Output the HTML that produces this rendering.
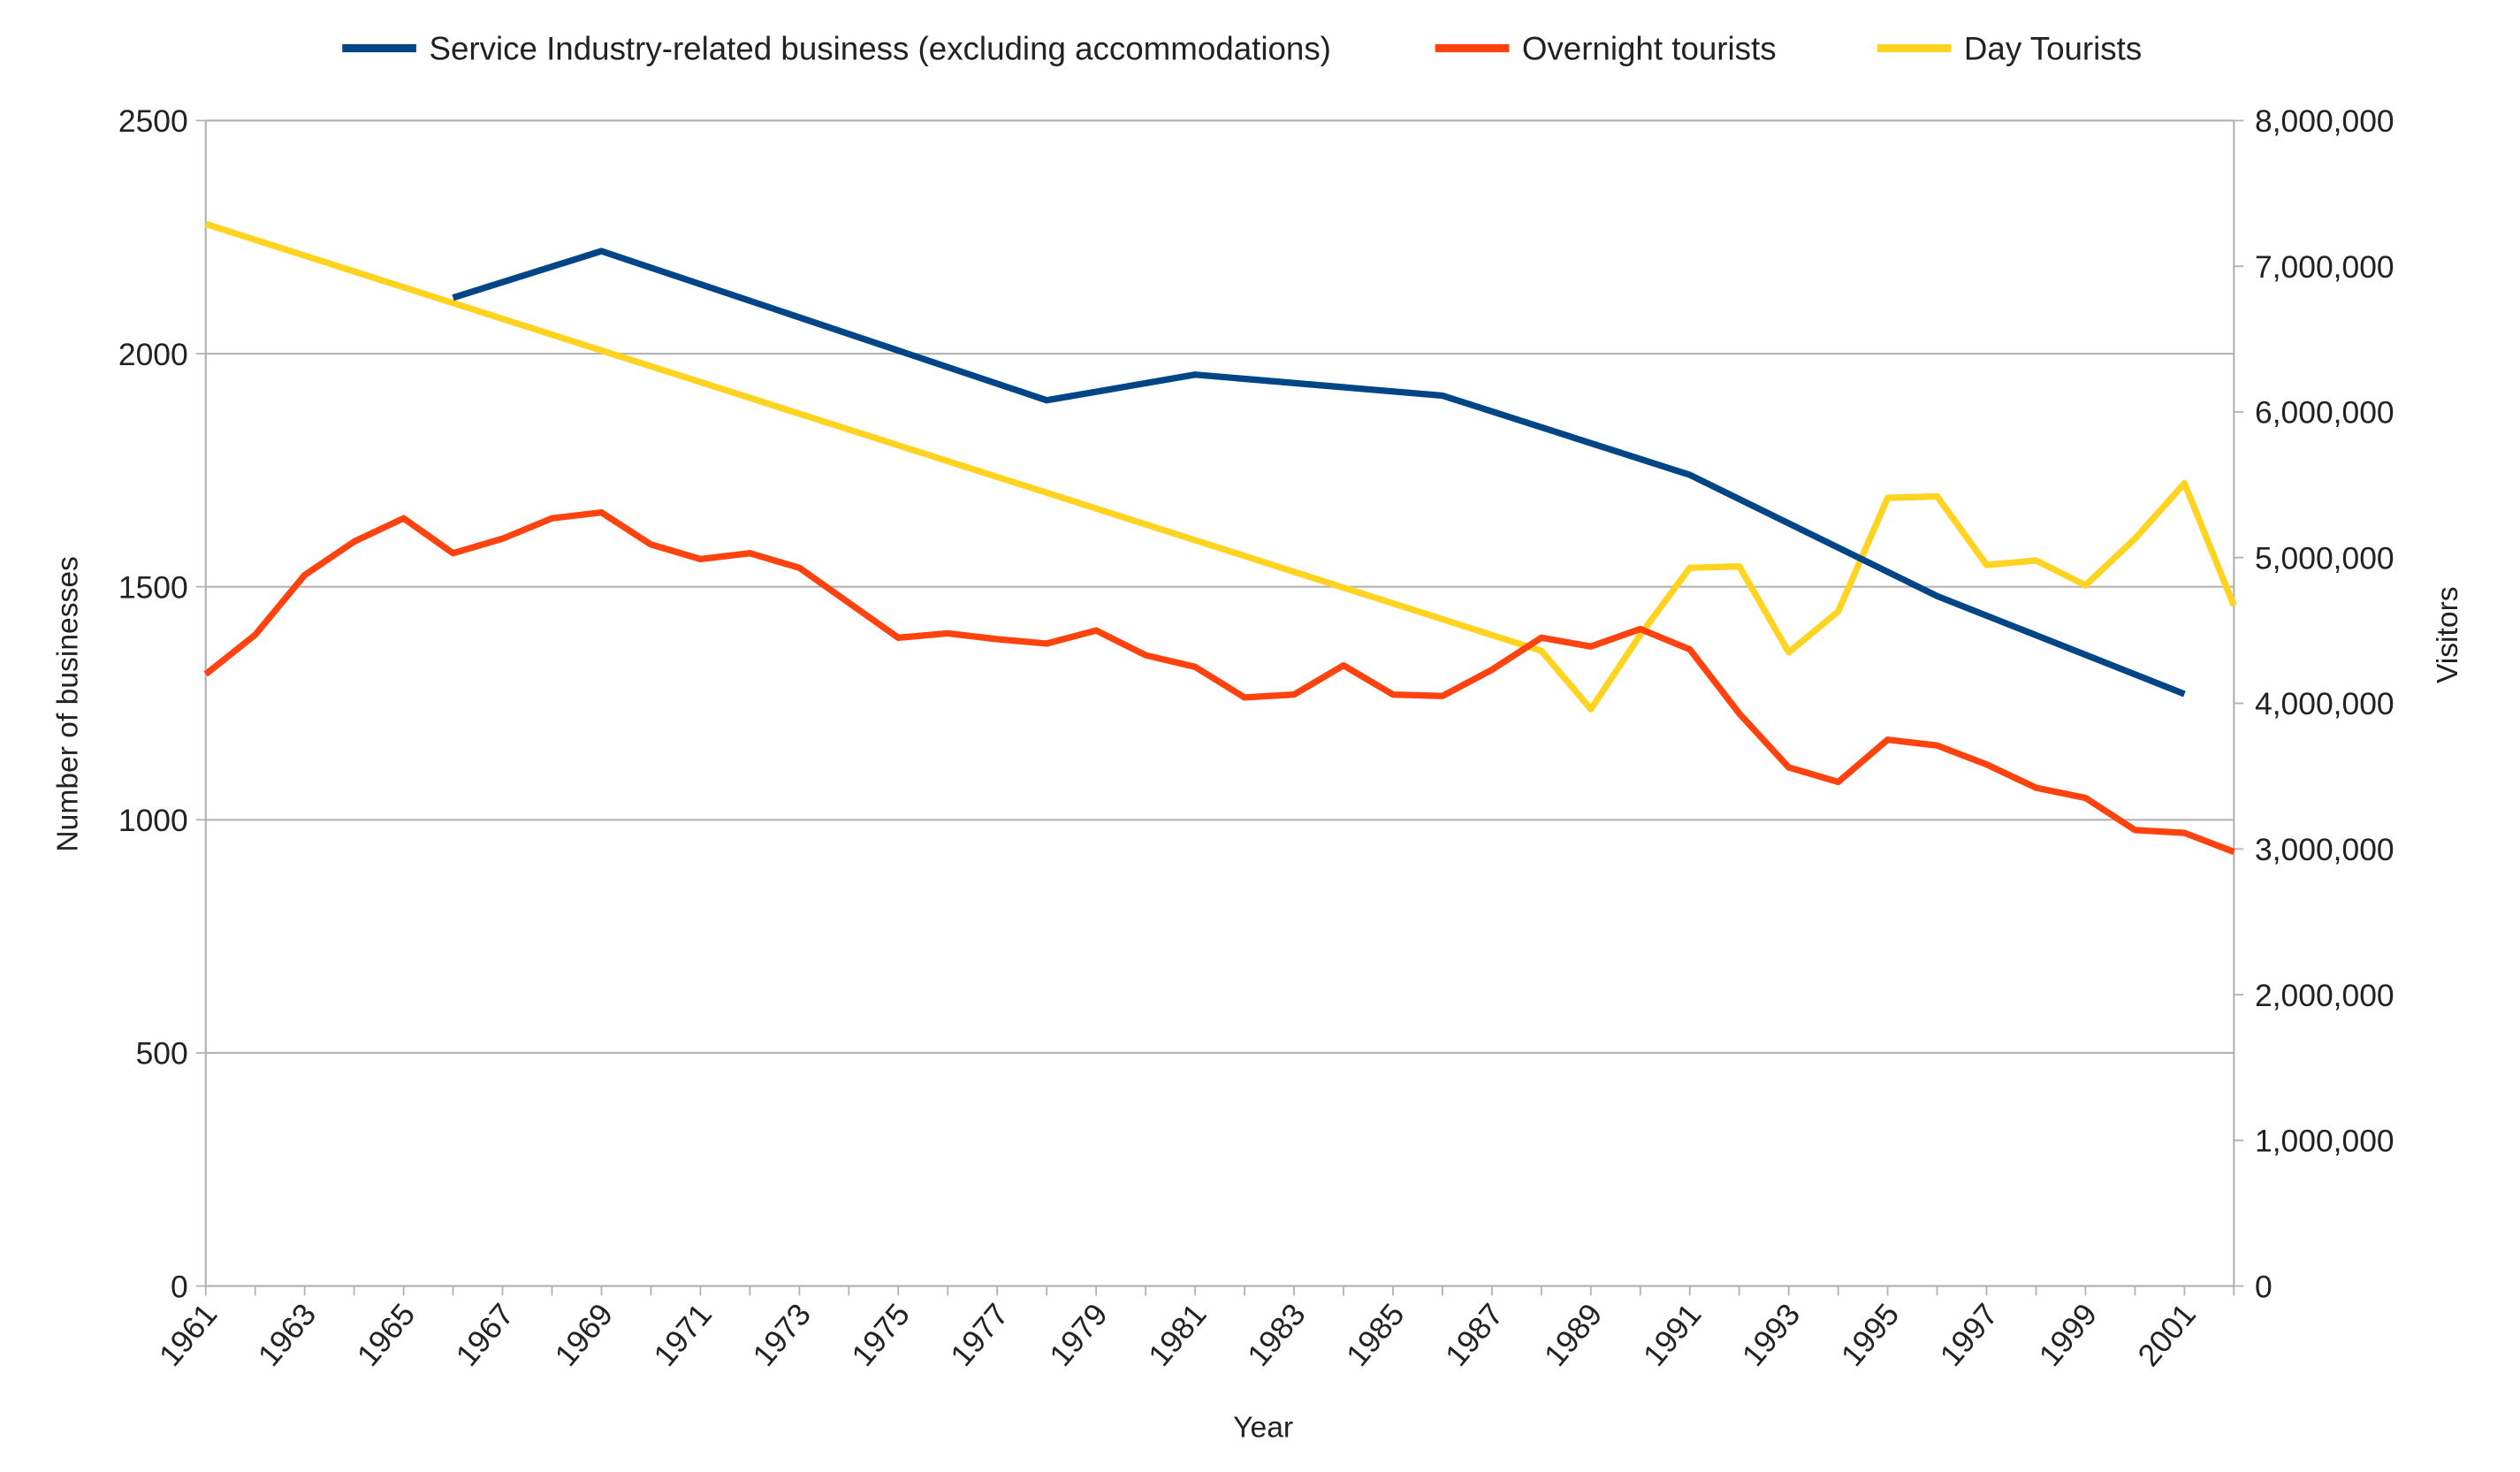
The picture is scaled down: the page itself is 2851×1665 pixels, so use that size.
<!DOCTYPE html>
<html><head><meta charset="utf-8"><style>
html,body{margin:0;padding:0;background:#fff;}
svg{display:block;font-family:"Liberation Sans",sans-serif;}
</style></head><body>
<svg id="chart" width="2851" height="1665" viewBox="0 0 1568 915.7" xmlns="http://www.w3.org/2000/svg"></svg>
<script>
const years = [];
for (let y = 1961; y <= 2002; y++) years.push(y);
const bizYears = [1966, 1969, 1978, 1981, 1986, 1991, 1996, 2001];
const bizValues = [2120, 2220, 1900, 1955, 1910, 1740, 1480, 1270];
const overnight = [4.20,4.47,4.88,5.11,5.27,5.03,5.13,5.27,5.31,5.09,4.99,5.03,4.93,4.69,4.45,4.48,4.44,4.41,4.50,4.33,4.25,4.04,4.06,4.26,4.06,4.05,4.23,4.45,4.39,4.51,4.37,3.93,3.56,3.46,3.75,3.71,3.58,3.42,3.35,3.13,3.11,2.98];
const dayYears = [1961,1988,1989,1990,1991,1992,1993,1994,1995,1996,1997,1998,1999,2000,2001,2002];
const dayValues = [7.29,4.36,3.96,4.47,4.93,4.94,4.35,4.63,5.41,5.42,4.95,4.98,4.81,5.13,5.51,4.67];
const leftTicks = [0,500,1000,1500,2000,2500];
const rightTicks = [0,1,2,3,4,5,6,7,8];
const rightLabels = ["0","1,000,000","2,000,000","3,000,000","4,000,000","5,000,000","6,000,000","7,000,000","8,000,000"];

const NS="http://www.w3.org/2000/svg";
const svg=document.getElementById('chart');
const L=128,R=1390,T=75,B=800;
const x=yr=>L+(yr-1961)*(R-L)/(2002-1961);
const yl=v=>B-v*(B-T)/2500;
const yr=v=>B-v*(B-T)/8;
function mk(tag,attrs,parent){const e=document.createElementNS(NS,tag);for(const k in attrs)e.setAttribute(k,attrs[k]);(parent||svg).appendChild(e);return e;}

const grid=mk('g',{});


leftTicks.forEach(v=>{mk('line',{x1:L,x2:R,y1:yl(v),y2:yl(v),stroke:'#b3b3b3','stroke-width':1.2},grid);});
mk('line',{x1:L,x2:L,y1:T,y2:B,stroke:'#b3b3b3','stroke-width':1.2},grid);
mk('line',{x1:R,x2:R,y1:T,y2:B,stroke:'#b3b3b3','stroke-width':1.2},grid);

const la=mk('g',{});


leftTicks.forEach(v=>{mk('line',{x1:L-6,x2:L,y1:yl(v),y2:yl(v),stroke:'#b3b3b3'},la);const t=mk('text',{x:L-11,y:yl(v)+7,'text-anchor':'end','font-size':19.5,fill:'#222'},la);t.textContent=v;});
const ra=mk('g',{});


rightTicks.forEach((v,i)=>{mk('line',{x1:R,x2:R+6,y1:yr(v),y2:yr(v),stroke:'#b3b3b3'},ra);const t=mk('text',{x:R+13,y:yr(v)+7,'font-size':19.5,fill:'#222'},ra);t.textContent=rightLabels[i];});
const xa=mk('g',{});


years.forEach(yv=>{mk('line',{x1:x(yv),x2:x(yv),y1:B,y2:B+6,stroke:'#b3b3b3'},xa);if((yv-1961)%2===0){const t=mk('text',{x:x(yv)+8,y:B+18,'text-anchor':'end','font-size':19.5,fill:'#222',transform:`rotate(-50 ${x(yv)+8} ${B+18})`},xa);t.textContent=yv;}});

let t=mk('text',{x:786,y:894,'text-anchor':'middle','font-size':18.5,fill:'#222'});
t.textContent='Year';
t=mk('text',{x:48,y:438,'text-anchor':'middle','font-size':18.5,fill:'#222',transform:'rotate(-90 48 438)'});
t.textContent='Number of businesses';
t=mk('text',{x:1529,y:395,'text-anchor':'middle','font-size':18.5,fill:'#222',transform:'rotate(-90 1529 395)'});
t.textContent='Visitors';

function line(xs,ys,color,name){const p=mk('polyline',{points:xs.map((a,i)=>a+','+ys[i]).join(' '),fill:'none',stroke:color,'stroke-width':4,'stroke-linejoin':'round'});}
line(dayYears.map(x),dayValues.map(yr),'#ffd320','day-tourists-line');
line(years.map(x),overnight.map(yr),'#ff420e','overnight-tourists-line');
line(bizYears.map(x),bizValues.map(yl),'#004586','service-business-line');

const lg=mk('g',{});


[[213,'#004586','Service Industry-related business (excluding accommodations)'],[893,'#ff420e','Overnight tourists'],[1168,'#ffd320','Day Tourists']].forEach(([lx,c,txt])=>{
 const g=mk('g',{},lg);
 
 
 mk('line',{x1:lx,x2:lx+46,y1:30,y2:30,stroke:c,'stroke-width':5},g);
 const tt=mk('text',{x:lx+54,y:37,'font-size':20.2,fill:'#222'},g);tt.textContent=txt;
});
</script>
</body></html>
